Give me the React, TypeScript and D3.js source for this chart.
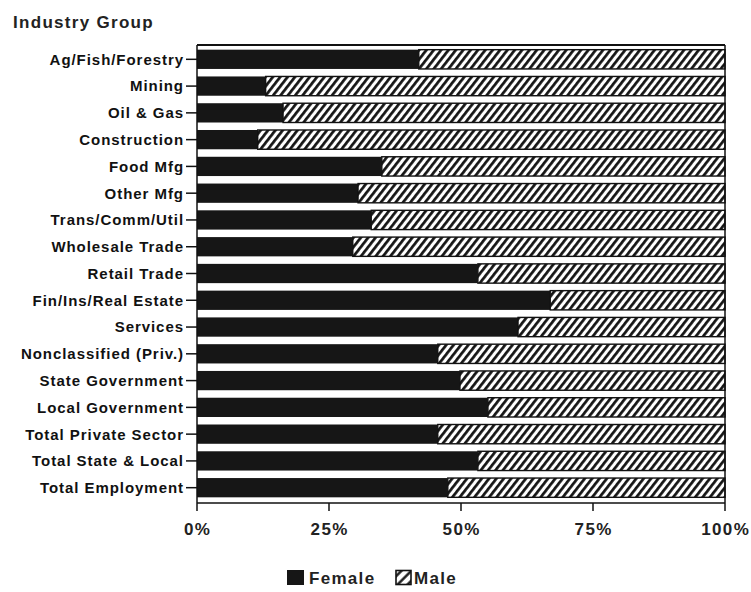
import React from "react";
import * as d3 from "d3";

// Share of employment held by women, by industry group (fraction of total)
const industries = [
  "Ag/Fish/Forestry",
  "Mining",
  "Oil & Gas",
  "Construction",
  "Food Mfg",
  "Other Mfg",
  "Trans/Comm/Util",
  "Wholesale Trade",
  "Retail Trade",
  "Fin/Ins/Real Estate",
  "Services",
  "Nonclassified (Priv.)",
  "State Government",
  "Local Government",
  "Total Private Sector",
  "Total State & Local",
  "Total Employment",
];

const femaleShare = [
  0.42, 0.13, 0.163, 0.115, 0.35, 0.305, 0.33, 0.295, 0.532, 0.669, 0.608,
  0.456, 0.498, 0.551, 0.456, 0.532, 0.475,
];

const maleShare = femaleShare.map((f) => 1 - f);

const tickValues = [0, 0.25, 0.5, 0.75, 1];
const tickLabels = ["0%", "25%", "50%", "75%", "100%"];

const seriesNames = ["Female", "Male"];

const W = 751;
const H = 592;
const FONT = "'Liberation Sans', Arial, sans-serif";

export default function App() {
  const x = d3.scaleLinear().domain([0, 1]).range([197, 725]);
  const y = d3
    .scaleBand<string>()
    .domain(industries)
    .range([47, 500])
    .paddingInner(0.28)
    .paddingOuter(0.1);

  const rows = industries.map((name, i) => ({
    name,
    female: femaleShare[i],
    male: maleShare[i],
  }));
  const stack = d3.stack<any>().keys(["female", "male"])(rows);

  const axisY = 503;
  const top = 45;

  return (
    <svg
      width={W}
      height={H}
      style={{ position: "absolute", left: 0, top: 0, background: "#fff" }}
      fontFamily={FONT}
    >
      <defs>
        <pattern
          id="hatch"
          patternUnits="userSpaceOnUse"
          width={5.8}
          height={10}
          patternTransform="rotate(38)"
        >
          <rect width={5.8} height={10} fill="#fff" />
          <line x1={1.4} y1={0} x2={1.4} y2={10} stroke="#111" strokeWidth={2.7} />
        </pattern>
        <pattern
          id="hatchLegend"
          patternUnits="userSpaceOnUse"
          width={7}
          height={10}
          patternTransform="rotate(45)"
        >
          <rect width={7} height={10} fill="#fff" />
          <line x1={1.5} y1={0} x2={1.5} y2={10} stroke="#111" strokeWidth={2.4} />
        </pattern>
      </defs>

      {/* Title */}
      <text x={13} y={28} fontSize={17} fontWeight={700} fill="#222" letterSpacing={1.3}>
        Industry Group
      </text>

      {/* Stacked bars */}
      {stack.map((layer, li) =>
        layer.map((d, i) => {
          const y0 = y(industries[i])!;
          const x0 = x(d[0]);
          const x1 = x(d[1]);
          return (
            <rect
              key={`${li}-${i}`}
              x={x0}
              y={y0}
              width={x1 - x0}
              height={y.bandwidth()}
              fill={li === 0 ? "#161616" : "url(#hatch)"}
              stroke="#111"
              strokeWidth={li === 0 ? 0 : 1.4}
            />
          );
        })
      )}

      {/* Frame */}
      <line x1={x(0)} x2={x(1)} y1={top} y2={top} stroke="#111" strokeWidth={2} />
      <line x1={x(1)} x2={x(1)} y1={top} y2={axisY} stroke="#111" strokeWidth={1.5} />
      <line x1={x(0)} x2={x(0)} y1={top} y2={axisY} stroke="#111" strokeWidth={1.5} />
      <line x1={x(0)} x2={x(1)} y1={axisY} y2={axisY} stroke="#111" strokeWidth={1.5} />

      {/* Category axis */}
      {industries.map((name) => {
        const cy = y(name)! + y.bandwidth() / 2;
        return (
          <g key={name}>
            <line x1={x(0) - 11} x2={x(0)} y1={cy} y2={cy} stroke="#111" strokeWidth={1.5} />
            <text
              x={184}
              y={cy}
              dy="0.36em"
              textAnchor="end"
              fontSize={15}
              fontWeight={700}
              fill="#111"
              letterSpacing={0.95}
            >
              {name}
            </text>
          </g>
        );
      })}

      {/* Value axis */}
      {tickValues.map((v, i) => (
        <g key={v}>
          <line x1={x(v)} x2={x(v)} y1={axisY} y2={axisY + 8} stroke="#111" strokeWidth={1.5} />
          <text
            x={x(v) + 0.7}
            y={535}
            textAnchor="middle"
            fontSize={17}
            fontWeight={700}
            fill="#222"
            letterSpacing={1.4}
          >
            {tickLabels[i]}
          </text>
        </g>
      ))}

      {/* Legend */}
      <g>
        <rect x={287} y={570} width={17} height={15} fill="#161616" />
        <text x={309} y={584} fontSize={17} fontWeight={700} fill="#222" letterSpacing={1.3}>
          {seriesNames[0]}
        </text>
        <rect
          x={396}
          y={570.5}
          width={15}
          height={14}
          fill="url(#hatchLegend)"
          stroke="#111"
          strokeWidth={1.6}
        />
        <text x={414} y={584} fontSize={17} fontWeight={700} fill="#222" letterSpacing={1.3}>
          {seriesNames[1]}
        </text>
      </g>
    </svg>
  );
}
